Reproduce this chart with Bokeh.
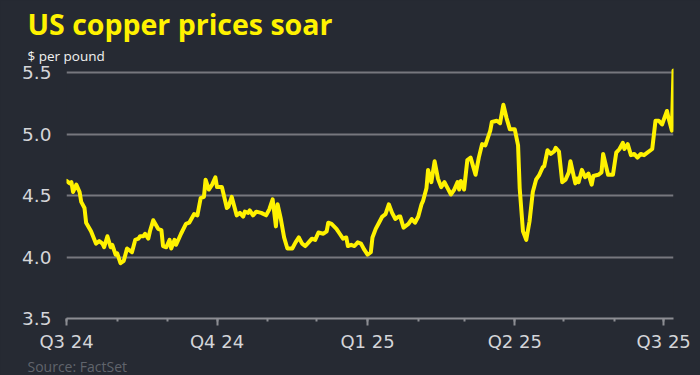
import pandas as pd
from bokeh.plotting import figure
from bokeh.models import Range1d, FixedTicker, Title, CustomJSTickFormatter, PrintfTickFormatter
from bokeh.embed import file_html
from bokeh.resources import INLINE

# ---- data ----
dates = [
    "2024-07-01", "2024-07-03", "2024-07-04", "2024-07-05", "2024-07-07", "2024-07-09",
    "2024-07-10", "2024-07-12", "2024-07-13", "2024-07-16", "2024-07-19", "2024-07-21",
    "2024-07-23", "2024-07-24", "2024-07-26", "2024-07-28", "2024-07-29", "2024-07-31",
    "2024-08-01", "2024-08-03", "2024-08-05", "2024-08-07", "2024-08-10", "2024-08-12",
    "2024-08-14", "2024-08-15", "2024-08-17", "2024-08-18", "2024-08-20", "2024-08-21",
    "2024-08-23", "2024-08-26", "2024-08-28", "2024-08-29", "2024-08-31", "2024-09-02",
    "2024-09-03", "2024-09-05", "2024-09-06", "2024-09-09", "2024-09-12", "2024-09-14",
    "2024-09-17", "2024-09-19", "2024-09-21", "2024-09-23", "2024-09-24", "2024-09-26",
    "2024-09-28", "2024-09-30", "2024-10-01", "2024-10-04", "2024-10-07", "2024-10-08",
    "2024-10-10", "2024-10-13", "2024-10-15", "2024-10-17", "2024-10-18", "2024-10-20",
    "2024-10-21", "2024-10-23", "2024-10-25", "2024-10-28", "2024-10-31", "2024-11-02",
    "2024-11-04", "2024-11-06", "2024-11-07", "2024-11-09", "2024-11-11", "2024-11-13",
    "2024-11-16", "2024-11-18", "2024-11-20", "2024-11-22", "2024-11-24", "2024-11-26",
    "2024-11-28", "2024-11-30", "2024-12-02", "2024-12-05", "2024-12-07", "2024-12-08",
    "2024-12-10", "2024-12-13", "2024-12-15", "2024-12-17", "2024-12-19", "2024-12-20",
    "2024-12-22", "2024-12-24", "2024-12-26", "2024-12-28", "2024-12-30", "2025-01-01",
    "2025-01-03", "2025-01-04", "2025-01-06", "2025-01-08", "2025-01-10", "2025-01-12",
    "2025-01-14", "2025-01-16", "2025-01-18", "2025-01-20", "2025-01-21", "2025-01-23",
    "2025-01-26", "2025-01-28", "2025-01-30", "2025-02-01", "2025-02-03", "2025-02-04",
    "2025-02-06", "2025-02-07", "2025-02-09", "2025-02-11", "2025-02-13", "2025-02-15",
    "2025-02-17", "2025-02-19", "2025-02-21", "2025-02-23", "2025-02-25", "2025-02-26",
    "2025-02-27", "2025-03-01", "2025-03-03", "2025-03-05", "2025-03-08", "2025-03-10",
    "2025-03-12", "2025-03-14", "2025-03-17", "2025-03-18", "2025-03-21", "2025-03-23",
    "2025-03-25", "2025-03-27", "2025-03-29", "2025-04-01", "2025-04-03", "2025-04-04",
    "2025-04-06", "2025-04-08", "2025-04-10", "2025-04-12", "2025-04-14", "2025-04-16",
    "2025-04-18", "2025-04-19", "2025-04-21", "2025-04-23", "2025-04-25", "2025-04-26",
    "2025-04-28", "2025-04-30", "2025-05-02", "2025-05-04", "2025-05-05", "2025-05-08",
    "2025-05-09", "2025-05-10", "2025-05-12", "2025-05-14", "2025-05-16", "2025-05-18",
    "2025-05-19", "2025-05-22", "2025-05-24", "2025-05-25", "2025-05-28", "2025-05-31",
    "2025-06-02", "2025-06-04", "2025-06-06", "2025-06-07", "2025-06-09", "2025-06-11",
    "2025-06-13", "2025-06-15", "2025-06-17", "2025-06-19", "2025-06-21", "2025-06-24",
    "2025-06-26", "2025-06-28", "2025-06-30", "2025-07-03", "2025-07-04", "2025-07-06",
    "2025-07-07",
]
prices = [
    4.62, 4.60, 4.61, 4.53, 4.59, 4.53,
    4.45, 4.40, 4.28, 4.21, 4.11, 4.13,
    4.11, 4.08, 4.17, 4.08, 4.10, 4.02,
    4.03, 3.95, 3.97, 4.07, 4.04, 4.14,
    4.15, 4.17, 4.17, 4.19, 4.15, 4.21,
    4.30, 4.23, 4.22, 4.09, 4.08, 4.14,
    4.07, 4.14, 4.10, 4.19, 4.27, 4.28,
    4.35, 4.34, 4.48, 4.49, 4.63, 4.55,
    4.59, 4.65, 4.57, 4.57, 4.40, 4.41,
    4.49, 4.34, 4.36, 4.33, 4.37, 4.36,
    4.38, 4.34, 4.37, 4.36, 4.34, 4.39,
    4.47, 4.25, 4.43, 4.31, 4.16, 4.07,
    4.07, 4.12, 4.16, 4.11, 4.09, 4.12,
    4.15, 4.14, 4.20, 4.19, 4.21, 4.28,
    4.27, 4.23, 4.19, 4.15, 4.16, 4.09,
    4.10, 4.09, 4.12, 4.11, 4.06, 4.02,
    4.04, 4.16, 4.23, 4.28, 4.33, 4.35,
    4.43, 4.36, 4.31, 4.33, 4.33, 4.24,
    4.27, 4.31, 4.28, 4.33, 4.43, 4.46,
    4.56, 4.71, 4.61, 4.78, 4.64, 4.57,
    4.61, 4.56, 4.51, 4.55, 4.61, 4.55,
    4.62, 4.55, 4.79, 4.81, 4.67, 4.81,
    4.92, 4.91, 5.03, 5.10, 5.11, 5.09,
    5.24, 5.13, 5.04, 5.04, 4.91, 4.56,
    4.21, 4.14, 4.29, 4.53, 4.63, 4.67,
    4.73, 4.74, 4.87, 4.84, 4.86, 4.89,
    4.86, 4.61, 4.63, 4.69, 4.78, 4.60,
    4.64, 4.61, 4.71, 4.65, 4.68, 4.59,
    4.66, 4.67, 4.69, 4.84, 4.67, 4.67,
    4.85, 4.88, 4.93, 4.88, 4.92, 4.83,
    4.84, 4.81, 4.84, 4.83, 4.85, 4.88,
    5.11, 5.11, 5.08, 5.19, 5.13, 5.03,
    5.52,
]
quarter_ticks = ["2024-07-01", "2024-10-01", "2025-01-01", "2025-04-01", "2025-07-01"]
quarter_labels = ["Q3 24", "Q4 24", "Q1 25", "Q2 25", "Q3 25"]
month_ticks = ["2024-07-01", "2024-08-01", "2024-09-01", "2024-10-01", "2024-11-01",
               "2024-12-01", "2025-01-01", "2025-02-01", "2025-03-01", "2025-04-01",
               "2025-05-01", "2025-06-01", "2025-07-01"]
y_ticks = [3.5, 4.0, 4.5, 5.0, 5.5]
y_grid = [4.0, 4.5, 5.0, 5.5]

title_text = "US copper prices soar"
unit_text = "$ per pound"
source_text = "Source: FactSet"

# ---- style ----
BG = "#262a33"
YELLOW = "#fff200"
GRID = "#76777e"
AXIS = "#8c8d93"
LABEL = "#d4d5d9"


def ms(s):
    return pd.Timestamp(s).value / 1e6


x = pd.to_datetime(dates)

p = figure(
    x_axis_type="datetime",
    width=700, height=375,
    x_range=Range1d(ms("2024-07-01"), ms("2025-07-07")),
    y_range=Range1d(3.5, 5.56),
    output_backend="svg", toolbar_location=None,
    min_border_left=66, min_border_right=27,
    min_border_top=65, min_border_bottom=52,
)
p.background_fill_color = BG
p.border_fill_color = BG
p.outline_line_color = None

p.line(x, prices, line_color=YELLOW, line_width=4, line_join="round", line_cap="round")

# x axis
xa = p.xaxis[0]
xa.ticker = FixedTicker(ticks=[ms(d) for d in quarter_ticks],
                        minor_ticks=[ms(d) for d in month_ticks])
xa.formatter = CustomJSTickFormatter(
    args=dict(qticks=[ms(d) for d in quarter_ticks], qlabels=quarter_labels),
    code="""
    for (let i = 0; i < qticks.length; i++) {
        if (Math.abs(qticks[i] - tick) < 1e6) { return qlabels[i]; }
    }
    return "";
""")
xa.axis_line_color = AXIS
xa.axis_line_width = 2
xa.major_tick_line_color = AXIS
xa.major_tick_line_width = 2
xa.major_tick_out = 7
xa.major_tick_in = 0
xa.minor_tick_line_color = AXIS
xa.minor_tick_line_width = 2
xa.minor_tick_out = 3
xa.minor_tick_in = 0
xa.major_label_text_color = LABEL
xa.major_label_text_font = "DejaVu Sans"
xa.major_label_text_font_size = "18px"
xa.major_label_standoff = 5

# y axis
ya = p.yaxis[0]
ya.ticker = FixedTicker(ticks=y_ticks)
ya.formatter = PrintfTickFormatter(format="%.1f")
ya.axis_line_color = None
ya.major_tick_line_color = None
ya.minor_tick_line_color = None
ya.major_label_text_color = LABEL
ya.major_label_text_font = "DejaVu Sans"
ya.major_label_text_font_size = "18.5px"
ya.major_label_standoff = 9

p.xgrid.grid_line_color = None
p.ygrid.ticker = FixedTicker(ticks=y_grid)
p.ygrid.grid_line_color = GRID
p.ygrid.grid_line_width = 2

# texts as title panels
p.add_layout(Title(text=unit_text, align="left", offset=-39, standoff=2,
                   text_font="Open Sans", text_font_size="13.5px", text_font_style="normal",
                   text_color="#f2f2f2"), "above")
p.add_layout(Title(text=title_text, align="left", offset=-39, standoff=2,
                   text_font="Open Sans", text_font_size="28.5px", text_font_style="bold",
                   text_color=YELLOW), "above")
p.add_layout(Title(text=source_text, align="left", offset=-39, standoff=0,
                   text_font="Open Sans", text_font_size="14px", text_font_style="normal",
                   text_color="#60646c"), "below")

html = file_html(p, INLINE)
html = html.replace("<head>", "<head><style>html,body{background:%s;overflow:hidden}</style>" % BG, 1)
open("out.html", "w").write(html)
